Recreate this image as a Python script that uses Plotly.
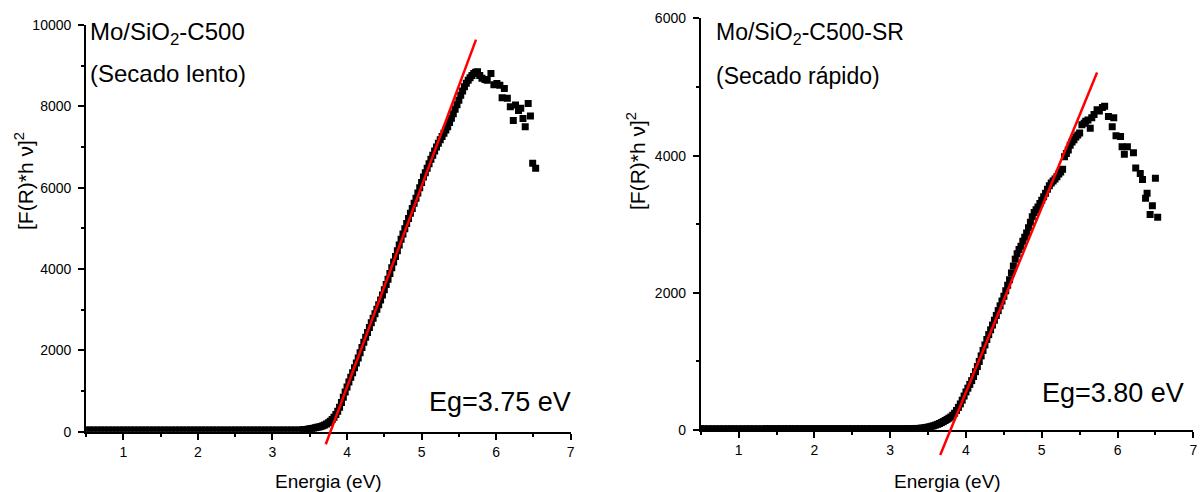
import plotly.graph_objects as go

# ---------------- data ----------------
base_energy = [0.50, 0.55, 0.60, 0.65, 0.70, 0.75, 0.80, 0.85, 0.90, 0.95,
               1.00, 1.05, 1.10, 1.15, 1.20, 1.25, 1.30, 1.35, 1.40, 1.45,
               1.50, 1.55, 1.60, 1.65, 1.70, 1.75, 1.80, 1.85, 1.90, 1.95,
               2.00, 2.05, 2.10, 2.15, 2.20, 2.25, 2.30, 2.35, 2.40, 2.45,
               2.50, 2.55, 2.60, 2.65, 2.70, 2.75, 2.80, 2.85, 2.90, 2.95,
               3.00, 3.05, 3.10, 3.15, 3.20, 3.25, 3.30, 3.35]
left_base = [40, 40, 40, 40, 40, 40, 40, 40, 40, 40,
             40, 40, 40, 40, 40, 40, 40, 40, 40, 40,
             40, 40, 40, 40, 40, 40, 40, 40, 40, 40,
             40, 40, 40, 40, 40, 40, 40, 40, 40, 40,
             40, 40, 40, 40, 40, 40, 40, 40, 40, 40,
             40, 40, 40, 40, 40, 40, 41, 43]
right_base = [20, 20, 20, 20, 20, 20, 20, 20, 20, 20,
              20, 20, 20, 20, 20, 20, 20, 20, 20, 20,
              20, 20, 20, 20, 20, 20, 20, 20, 20, 20,
              20, 20, 20, 20, 20, 20, 20, 20, 20, 20,
              20, 20, 20, 20, 20, 20, 20, 20, 20, 20,
              20, 20, 20, 20, 21, 21, 22, 23]

left_rise_energy = [3.400, 3.425, 3.450, 3.475, 3.500, 3.525, 3.550, 3.575, 3.600, 3.625,
                    3.650, 3.675, 3.700, 3.725, 3.750, 3.775, 3.800, 3.825, 3.850, 3.875,
                    3.900, 3.925, 3.950, 3.975, 4.000, 4.025, 4.050, 4.075, 4.100, 4.125,
                    4.150, 4.175, 4.200, 4.225, 4.250, 4.275, 4.300, 4.325, 4.350, 4.375,
                    4.400, 4.425, 4.450, 4.475, 4.500, 4.525, 4.550, 4.575, 4.600, 4.625,
                    4.650, 4.675, 4.700, 4.725, 4.750, 4.775, 4.800, 4.825, 4.850, 4.875,
                    4.900, 4.925, 4.950, 4.975, 5.000, 5.025, 5.050, 5.075, 5.100, 5.125,
                    5.150, 5.175, 5.200, 5.225, 5.250, 5.275, 5.300, 5.325, 5.350, 5.375,
                    5.400, 5.425, 5.450, 5.475, 5.500, 5.525, 5.550, 5.575, 5.600, 5.625,
                    5.650, 5.675, 5.700, 5.725, 5.750]
left_rise = [45, 50, 55, 62, 70, 78, 87, 97, 108, 118,
             130, 145, 165, 190, 220, 255, 300, 355, 420, 500,
             600, 720, 850, 975, 1100, 1220, 1340, 1450, 1570, 1690,
             1810, 1940, 2070, 2200, 2320, 2440, 2560, 2680, 2790, 2900,
             3010, 3120, 3240, 3360, 3490, 3620, 3750, 3890, 4030, 4170,
             4310, 4450, 4590, 4730, 4860, 4990, 5120, 5240, 5370, 5490,
             5620, 5740, 5870, 6000, 6130, 6260, 6370, 6480, 6590, 6700,
             6800, 6900, 7000, 7090, 7180, 7260, 7340, 7420, 7500, 7600,
             7710, 7820, 7930, 8040, 8150, 8270, 8380, 8480, 8570, 8640,
             8700, 8760, 8810, 8840, 8850]
left_tail_energy = [5.78, 5.81, 5.85, 5.88, 5.93, 5.97, 6.01, 6.05, 6.08, 6.11,
                    6.15, 6.19, 6.23, 6.26, 6.30, 6.33, 6.36, 6.39, 6.43, 6.46,
                    6.49, 6.53]
left_tail = [8760, 8690, 8660, 8640, 8810, 8530, 8560, 8520, 8210, 8440,
             8200, 7990, 7650, 8030, 7900, 7950, 7700, 7500, 8070, 7760,
             6600, 6480]

right_rise_energy = [3.400, 3.425, 3.450, 3.475, 3.500, 3.525, 3.550, 3.575, 3.600, 3.625,
                     3.650, 3.675, 3.700, 3.725, 3.750, 3.775, 3.800, 3.825, 3.850, 3.875,
                     3.900, 3.925, 3.950, 3.975, 4.000, 4.025, 4.050, 4.075, 4.100, 4.125,
                     4.150, 4.175, 4.200, 4.225, 4.250, 4.275, 4.300, 4.325, 4.350, 4.375,
                     4.400, 4.425, 4.450, 4.475, 4.500, 4.525, 4.550, 4.575, 4.600, 4.625,
                     4.650, 4.675, 4.700, 4.725, 4.750, 4.775, 4.800, 4.825, 4.850, 4.875,
                     4.900, 4.925, 4.950, 4.975, 5.000, 5.025, 5.050, 5.075, 5.100, 5.125,
                     5.150, 5.175, 5.200, 5.225, 5.250, 5.275, 5.300, 5.325, 5.350, 5.375,
                     5.400, 5.425, 5.450, 5.475, 5.500]
right_rise = [25, 28, 32, 37, 42, 48, 55, 63, 72, 83,
              95, 108, 122, 138, 155, 172, 190, 215, 245, 285,
              330, 380, 435, 495, 555, 610, 665, 720, 780, 850,
              925, 1000, 1080, 1160, 1240, 1320, 1390, 1460, 1530, 1600,
              1670, 1740, 1810, 1880, 1950, 2030, 2110, 2190, 2290, 2390,
              2490, 2570, 2630, 2680, 2750, 2810, 2870, 2950, 3030, 3110,
              3170, 3210, 3250, 3300, 3350, 3400, 3450, 3510, 3560, 3600,
              3630, 3660, 3690, 3730, 3760, 3800, 3985, 4030, 4080, 4150,
              4200, 4230, 4270, 4300, 4330]
right_tail_energy = [5.53, 5.56, 5.58, 5.61, 5.64, 5.66, 5.69, 5.73, 5.76, 5.80,
                     5.83, 5.88, 5.93, 5.95, 5.98, 6.04, 6.06, 6.09, 6.13, 6.21,
                     6.24, 6.30, 6.33, 6.37, 6.39, 6.43, 6.46, 6.50, 6.53]
right_tail = [4450, 4470, 4500, 4520, 4400, 4550, 4600, 4670, 4650, 4700,
              4720, 4570, 4420, 4550, 4290, 4280, 4130, 4020, 4130, 4040,
              3820, 3740, 3650, 3380, 3450, 3140, 3270, 3670, 3100]

left_fit_energy = [3.715, 5.73]
left_fit_signal = [-310, 9640]
right_fit_energy = [3.66, 5.73]
right_fit_signal = [-364, 5210]

x_ticks = [1, 2, 3, 4, 5, 6, 7]
left_y_ticks = [0, 2000, 4000, 6000, 8000, 10000]
right_y_ticks = [0, 2000, 4000, 6000]

# ---------------- layout helpers ----------------
W, H = 1203, 492
FONT = "Liberation Sans, Arial, sans-serif"


def px_x(p):
    return p / W


def px_y(p):
    return 1 - p / H


# plot areas in pixels (left, right, top, bottom)
L_AREA = (86.1, 570.7, 25.0, 431.7)
R_AREA = (700.8, 1193.3, 18.4, 430.0)
L_YMAX, R_YMAX = 10000, 6000
EXT = 35  # px the fit line may extend below the x axis

fig = go.Figure()

marker = dict(symbol="square", size=7, color="black", line=dict(width=0))

fig.add_trace(go.Scatter(x=base_energy + left_rise_energy + left_tail_energy,
                         y=left_base + left_rise + left_tail,
                         mode="markers", marker=marker, xaxis="x", yaxis="y",
                         showlegend=False))
fig.add_trace(go.Scatter(x=base_energy + right_rise_energy + right_tail_energy,
                         y=right_base + right_rise + right_tail,
                         mode="markers", marker=marker, xaxis="x2", yaxis="y2",
                         showlegend=False))
fig.add_trace(go.Scatter(x=left_fit_energy, y=left_fit_signal, mode="lines",
                         line=dict(color="#ff0000", width=2.5), xaxis="x3", yaxis="y3",
                         showlegend=False))
fig.add_trace(go.Scatter(x=right_fit_energy, y=right_fit_signal, mode="lines",
                         line=dict(color="#ff0000", width=2.5), xaxis="x4", yaxis="y4",
                         showlegend=False))

tickfont = dict(family=FONT, size=14, color="black")


def xaxis_cfg(area, anchor):
    return dict(domain=[px_x(area[0]), px_x(area[1])], range=[0.5, 7],
                tickvals=x_ticks, ticktext=[str(v) for v in x_ticks],
                ticks="outside", ticklen=6, tickwidth=1.5, tickcolor="black",
                minor=dict(ticks="outside", ticklen=3, tickwidth=1.5, tickcolor="black",
                           dtick=0.5, tick0=0.5, showgrid=False),
                showline=True, linewidth=2, linecolor="black",
                showgrid=False, zeroline=False, tickfont=tickfont,
                anchor=anchor, fixedrange=True, automargin=False)


def yaxis_cfg(area, ymax, ticks, anchor):
    return dict(domain=[px_y(area[3]), px_y(area[2])], range=[0, ymax],
                tickvals=ticks, ticktext=[str(v) for v in ticks],
                ticks="outside", ticklen=6, tickwidth=1.5, tickcolor="black",
                minor=dict(ticks="outside", ticklen=3, tickwidth=1.5, tickcolor="black",
                           dtick=1000, tick0=0, showgrid=False),
                showline=True, linewidth=2, linecolor="black",
                showgrid=False, zeroline=False, tickfont=tickfont,
                ticklabelstandoff=4,
                anchor=anchor, fixedrange=True, automargin=False)


def overlay_y(area, ymax, anchor):
    h = area[3] - area[2]
    low = -EXT * ymax / h
    return dict(domain=[px_y(area[3] + EXT), px_y(area[2])], range=[low, ymax],
                visible=False, anchor=anchor, fixedrange=True, automargin=False)


def overlay_x(area, anchor):
    return dict(domain=[px_x(area[0]), px_x(area[1])], range=[0.5, 7],
                visible=False, anchor=anchor, fixedrange=True, automargin=False)


annotations = []


def ann(text, xp, yp, size, xanchor="left", yanchor="middle", angle=0):
    annotations.append(dict(text=text, x=px_x(xp), y=px_y(yp), xref="paper", yref="paper",
                            xanchor=xanchor, yanchor=yanchor, showarrow=False,
                            textangle=angle,
                            font=dict(family=FONT, size=size, color="black")))


ann("Mo/SiO<sub>2</sub>-C500", 88, 33, 24)
ann("(Secado lento)", 88, 73, 24)
ann("Eg=3.75 eV", 572.5, 402, 27, xanchor="right")
ann("Energia (eV)", 328.4, 481, 19, xanchor="center")
ann("[F(R)*h ν]<sup>2</sup>", 24, 181, 21, xanchor="center", angle=-90)

ann("Mo/SiO<sub>2</sub>-C500-SR", 713.5, 34, 23)
ann("(Secado rápido)", 713.5, 76, 23)
ann("Eg=3.80 eV", 1186, 393, 27, xanchor="right")
ann("Energia (eV)", 947, 481, 19, xanchor="center")
ann("[F(R)*h ν]<sup>2</sup>", 636, 161, 21, xanchor="center", angle=-90)

fig.update_layout(
    width=W, height=H, autosize=False,
    margin=dict(l=0, r=0, t=0, b=0, pad=0, autoexpand=False),
    paper_bgcolor="white", plot_bgcolor="rgba(0,0,0,0)",
    showlegend=False,
    xaxis=xaxis_cfg(L_AREA, "y"),
    yaxis=yaxis_cfg(L_AREA, L_YMAX, left_y_ticks, "x"),
    xaxis2=xaxis_cfg(R_AREA, "y2"),
    yaxis2=yaxis_cfg(R_AREA, R_YMAX, right_y_ticks, "x2"),
    xaxis3=overlay_x(L_AREA, "y3"),
    yaxis3=overlay_y(L_AREA, L_YMAX, "x3"),
    xaxis4=overlay_x(R_AREA, "y4"),
    yaxis4=overlay_y(R_AREA, R_YMAX, "x4"),
    annotations=annotations,
    font=dict(family=FONT, color="black"),
)

fig.write_html("out.html", config={"displayModeBar": False})
